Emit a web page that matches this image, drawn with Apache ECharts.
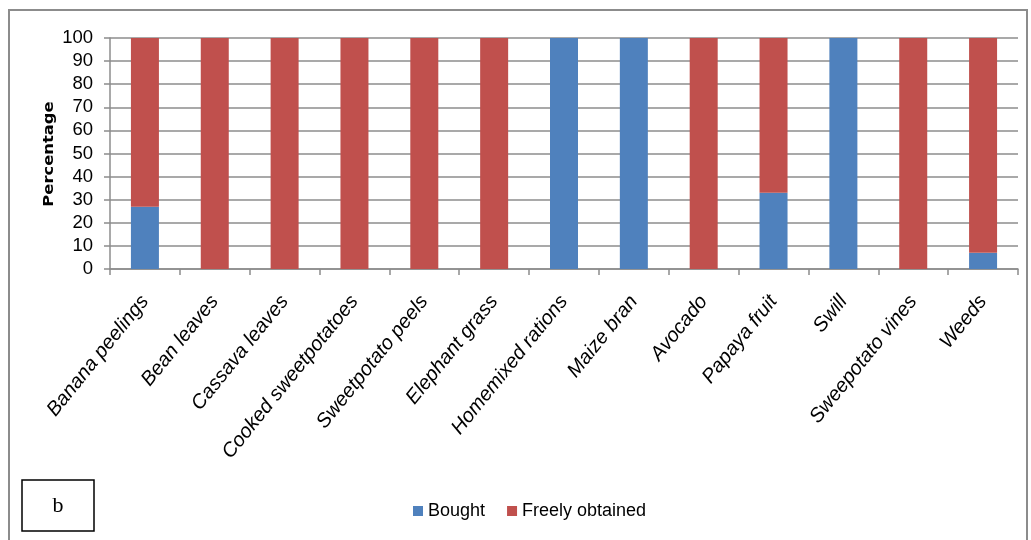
<!DOCTYPE html>
<html>
<head>
<meta charset="utf-8">
<script src="https://cdn.jsdelivr.net/npm/echarts@6/dist/echarts.min.js"></script>
<style>
  html, body { margin: 0; padding: 0; background: #fff; }
  #chart { width: 1031px; height: 540px; }
</style>
</head>
<body>
<div id="chart"></div>
<script>
// Feed sources and how they were acquired (percent of respondents)
const categories = [
  'Banana peelings', 'Bean leaves', 'Cassava leaves', 'Cooked sweetpotatoes',
  'Sweetpotato peels', 'Elephant grass', 'Homemixed rations', 'Maize bran',
  'Avocado', 'Papaya fruit', 'Swill', 'Sweepotato vines', 'Weeds'
];
const bought = [27, 0, 0, 0, 0, 0, 100, 100, 0, 33, 100, 0, 7];
const freelyObtained = [73, 100, 100, 100, 100, 100, 0, 0, 100, 67, 0, 100, 93];
const yTicks = [0, 10, 20, 30, 40, 50, 60, 70, 80, 90, 100];
const yTitle = 'Percentage';
const panelTag = 'b';

const font = '"Liberation Sans", "DejaVu Sans", sans-serif';
const chart = echarts.init(document.getElementById('chart'));

chart.setOption({
  animation: false,
  backgroundColor: '#fff',
  grid: { left: 110, right: 13, top: 38, bottom: 271, containLabel: false },
  legend: {
    data: ['Bought', 'Freely obtained'],
    left: 408, top: 497,
    itemWidth: 10, itemHeight: 10, itemGap: 22,
    icon: 'rect',
    textStyle: { fontFamily: font, fontSize: 18, color: '#000' }
  },
  xAxis: {
    type: 'category',
    data: categories,
    axisLine: { lineStyle: { color: '#8c8c8c', width: 1.5 } },
    axisTick: { show: true, length: 6, lineStyle: { color: '#8c8c8c', width: 1.5 } },
    axisLabel: {
      rotate: 51, interval: 0, margin: 29,
      fontFamily: font, fontStyle: 'italic', fontSize: 20, color: '#000'
    }
  },
  yAxis: {
    type: 'value',
    min: yTicks[0], max: yTicks[yTicks.length - 1], interval: 10,
    axisLine: { show: true, lineStyle: { color: '#8c8c8c', width: 1.5 } },
    axisTick: { show: true, length: 6, lineStyle: { color: '#8c8c8c', width: 1.5 } },
    axisLabel: { fontFamily: font, fontSize: 18.5, color: '#000', margin: 17 },
    splitLine: { lineStyle: { color: '#8c8c8c', width: 1.5 } }
  },
  series: [
    {
      name: 'Bought', type: 'bar', stack: 'total', barWidth: 28,
      itemStyle: { color: '#4F81BD' },
      data: bought
    },
    {
      name: 'Freely obtained', type: 'bar', stack: 'total', barWidth: 28,
      itemStyle: { color: '#C0504D' },
      data: freelyObtained
    }
  ],
  graphic: [
    {
      type: 'rect', silent: true, z: -1,
      shape: { x: 9, y: 10, width: 1018, height: 540 },
      style: { fill: 'none', stroke: '#8c8c8c', lineWidth: 2 }
    },
    {
      // y-axis title, slightly stretched along its length
      type: 'text', silent: true,
      x: 49, y: 154, rotation: Math.PI / 2, scaleX: 1.17,
      style: {
        text: yTitle,
        font: 'bold 14px "DejaVu Sans", sans-serif', fill: '#000',
        align: 'center', verticalAlign: 'middle'
      }
    },
    {
      type: 'rect', silent: true,
      shape: { x: 22, y: 480, width: 72, height: 51 },
      style: { fill: '#fff', stroke: '#000', lineWidth: 1.5 }
    },
    {
      type: 'text', silent: true,
      style: {
        x: 58, y: 506, text: panelTag,
        font: '22px "Liberation Serif", serif', fill: '#000',
        align: 'center', verticalAlign: 'middle'
      }
    }
  ]
});
</script>
</body>
</html>
